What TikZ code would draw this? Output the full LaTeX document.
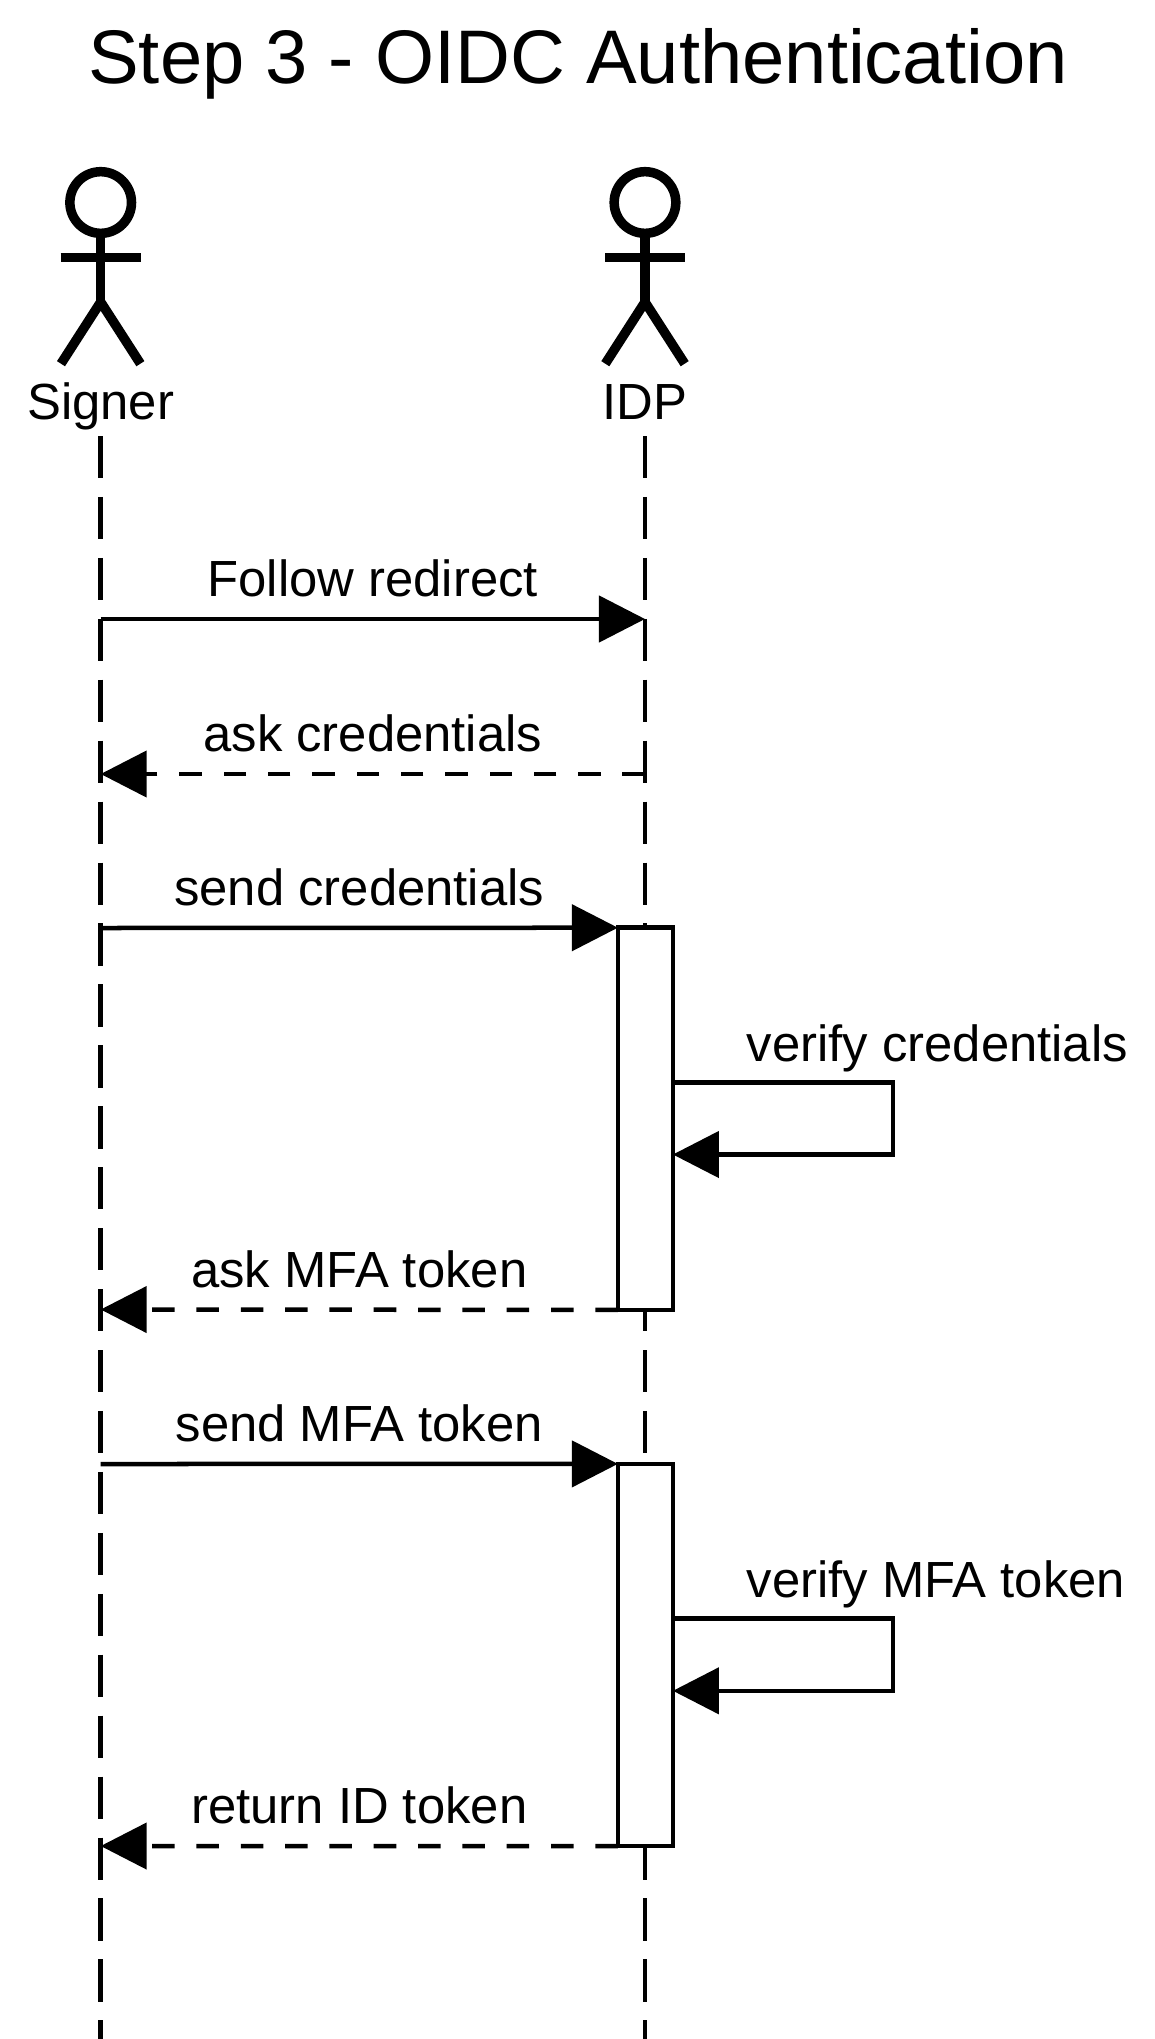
\documentclass[tikz,border=0pt]{standalone}
\usepackage{fontspec}
\setmainfont{Liberation Sans}
\usetikzlibrary{arrows.meta}
\tikzset{
	lifeline/.style={line width=0.045cm,dash pattern=on 0.422cm off 0.187cm},
	msg/.style={line width=0.045cm,->},
	msgback/.style={msg,dash pattern=on 0.225cm off 0.218cm},
	activation/.style={draw,fill=white,line width=0.045cm,minimum width=0.55cm,minimum height=3.82cm,outer sep=0pt,inner sep=0pt},
	actorline/.style={line width=0.095cm},
	msglabel/.style={anchor=base,inner sep=0pt,font=\fontsize{14.45}{17}\selectfont},
	titlelabel/.style={anchor=base,inner sep=0pt,font=\fontsize{21.6}{26}\selectfont}
}
\begin{document}
\begin{tikzpicture}[x=0.01cm,y=-0.01cm,>={Triangle[length=0.46cm,width=0.46cm]}]
	\useasboundingbox (0,0) rectangle (1154,2039);
	\node (title) [titlelabel] at (578,83.4) {Step 3 - OIDC Authentication};
	% actors and lifelines
	\foreach \nm/\x/\lbl in {signer/100.7/Signer,idp/645/IDP}{
		\draw[actorline] (\x,202.5) circle[radius=0.308cm];
		\draw[actorline] (\x,233)--(\x,302);
		\draw[actorline] (\x-40,257.7)--(\x+40,257.7);
		\draw[actorline] (\x-39.7,363.7)--(\x,302)--(\x+39.7,363.7);
		\node (\nm) [msglabel] at (\x,419) {\lbl};
		\coordinate (\nm top) at (\x,436);
		\coordinate (\nm end) at (\x,2039);
		\draw[lifeline] (\nm top)--(\nm end);
	}
	% rows of the messages
	\foreach \nm/\y in {a/619,b/774,c/928,d/1309.5,e/1464,f/1846}{
		\coordinate (sg\nm) at (100.7,\y);
		\coordinate (dp\nm) at (645,\y);
	}
	\node (actA) [activation] at (645.4,1118.8) {};
	\node (actB) [activation] at (645.4,1655) {};
	\draw[msg] (sga)--(dpa) node (lblFollow) [msglabel,midway,yshift=0.225cm] {Follow redirect};
	\draw[msgback] (dpb)--(sgb) node (lblAsk) [msglabel,midway,yshift=0.225cm] {ask credentials};
	\draw[msg] (sgc)--(actA.north west) node (lblSend) [msglabel,midway,yshift=0.225cm] {send credentials};
	\draw[msgback] (actA.south west)--(sgd) node (lblAskMfa) [msglabel,midway,yshift=0.225cm] {ask MFA token};
	\draw[msg] (sge)--(actB.north west) node (lblSendMfa) [msglabel,midway,yshift=0.225cm] {send MFA token};
	\draw[msgback] (actB.south west)--(sgf) node (lblReturn) [msglabel,midway,yshift=0.225cm] {return ID token};
	% self calls
	\coordinate (loopAtop) at (893,1082.7);
	\coordinate (loopAbot) at (893,1154.5);
	\coordinate (loopBtop) at (893,1618.6);
	\coordinate (loopBbot) at (893,1690.8);
	\draw[msg] (loopAtop -| actA.east)--(loopAtop)--(loopAbot)--(loopAbot -| actA.east);
	\draw[msg] (loopBtop -| actB.east)--(loopBtop)--(loopBbot)--(loopBbot -| actB.east);
	\node (lblVerify) [msglabel,anchor=base west] at (746,1061) {verify credentials};
	\node (lblVerifyMfa) [msglabel,anchor=base west] at (746,1597) {verify MFA token};
\end{tikzpicture}
\end{document}
